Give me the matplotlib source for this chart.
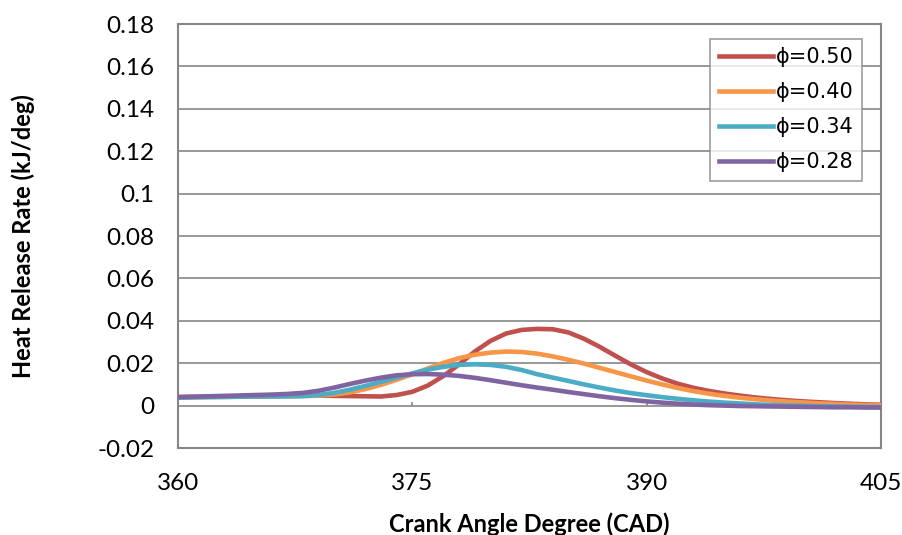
import numpy as np
import matplotlib
matplotlib.use("Agg")
import matplotlib.pyplot as plt

# crank angle (CAD), 1 degree steps
cad = np.arange(360, 406)

hrr_050 = [0.0040, 0.0041, 0.0042, 0.0043, 0.0044, 0.0045, 0.0046, 0.0046, 0.0047, 0.0047,
           0.0046, 0.0045, 0.0044, 0.0043, 0.0050, 0.0065, 0.0095, 0.0140, 0.0195, 0.0255,
           0.0305, 0.0340, 0.0357, 0.0362, 0.0360, 0.0345, 0.0315, 0.0277, 0.0235, 0.0194,
           0.0158, 0.0128, 0.0103, 0.0084, 0.0069, 0.0057, 0.0047, 0.0038, 0.0031, 0.0025,
           0.0020, 0.0016, 0.0012, 0.0009, 0.0006, 0.0004]
hrr_040 = [0.0040, 0.0040, 0.0041, 0.0041, 0.0042, 0.0042, 0.0043, 0.0044, 0.0045, 0.0047,
           0.0052, 0.0062, 0.0078, 0.0098, 0.0122, 0.0148, 0.0175, 0.0202, 0.0224, 0.0240,
           0.0250, 0.0255, 0.0253, 0.0245, 0.0232, 0.0216, 0.0198, 0.0178, 0.0158, 0.0138,
           0.0118, 0.0100, 0.0083, 0.0068, 0.0056, 0.0046, 0.0037, 0.0030, 0.0024, 0.0019,
           0.0015, 0.0011, 0.0008, 0.0005, 0.0003, 0.0002]
hrr_034 = [0.0038, 0.0039, 0.0040, 0.0041, 0.0042, 0.0043, 0.0043, 0.0044, 0.0045, 0.0050,
           0.0060, 0.0075, 0.0093, 0.0112, 0.0132, 0.0152, 0.0170, 0.0183, 0.0192, 0.0195,
           0.0192, 0.0183, 0.0168, 0.0148, 0.0132, 0.0116, 0.0100, 0.0085, 0.0071, 0.0059,
           0.0049, 0.0040, 0.0032, 0.0025, 0.0019, 0.0014, 0.0010, 0.0006, 0.0003, 0.0001,
           -0.0001, -0.0003, -0.0004, -0.0005, -0.0006, -0.0007]
hrr_028 = [0.0040, 0.0042, 0.0044, 0.0046, 0.0048, 0.0050, 0.0052, 0.0055, 0.0060, 0.0070,
           0.0085, 0.0102, 0.0118, 0.0132, 0.0143, 0.0148, 0.0149, 0.0146, 0.0140, 0.0131,
           0.0120, 0.0108, 0.0096, 0.0085, 0.0075, 0.0064, 0.0054, 0.0044, 0.0035, 0.0027,
           0.0020, 0.0014, 0.0009, 0.0005, 0.0002, 0.0000, -0.0002, -0.0003, -0.0004, -0.0005,
           -0.0006, -0.0007, -0.0008, -0.0008, -0.0009, -0.0009]

labels = ["ϕ=0.50", "ϕ=0.40", "ϕ=0.34", "ϕ=0.28"]
colors = ["#C0504D", "#F79646", "#4BACC6", "#8064A2"]

xticks = [360, 375, 390, 405]
yticks = np.round(np.arange(-0.02, 0.181, 0.02), 2)
ytick_labels = ["-0.02", "0", "0.02", "0.04", "0.06", "0.08", "0.1",
                "0.12", "0.14", "0.16", "0.18"]

plt.rcParams["font.family"] = ["Lato", "DejaVu Sans"]
grey = "#868686"

fig = plt.figure(figsize=(9.03, 5.35), dpi=100)
ax = fig.add_axes([0.1971, 0.1626, 0.7785, 0.7925])

for y, lab, c in zip([hrr_050, hrr_040, hrr_034, hrr_028], labels, colors):
    ax.plot(cad, y, color=c, linewidth=3.3, label=lab, zorder=3)

ax.set_xlim(360, 405)
ax.set_ylim(-0.02, 0.18)

# horizontal gridlines, zero axis and its small tick marks
for yv in yticks:
    ax.axhline(yv, color=grey, linewidth=1.2, zorder=1)
ax.vlines(xticks, 0, 0.0018, color=grey, linewidth=1.2, zorder=1)

for s in ax.spines.values():
    s.set_color(grey)
    s.set_linewidth(1.5)

ax.set_xticks(xticks)
ax.set_yticks(yticks)
ax.set_yticklabels(ytick_labels)
ax.tick_params(length=0, labelsize=17.5)
ax.tick_params(axis="y", pad=17)
ax.tick_params(axis="x", pad=18)

ax.set_xlabel("Crank Angle Degree (CAD)", fontsize=17, fontweight="bold")
ax.set_ylabel("Heat Release Rate (kJ/deg)", fontsize=17, fontweight="bold")
ax.xaxis.set_label_coords(0.5, -0.151)
ax.yaxis.set_label_coords(-0.203, 0.5)

leg = ax.legend(loc="upper right", bbox_to_anchor=(0.973, 0.9646),
                prop={"family": "DejaVu Sans", "size": 15},
                frameon=True, fancybox=False, handlelength=2.6, handletextpad=0.15,
                borderpad=0.4, labelspacing=0.72, borderaxespad=0)
leg.get_frame().set_edgecolor(grey)
leg.get_frame().set_linewidth(1.2)

fig.savefig("out.png", dpi=100)
